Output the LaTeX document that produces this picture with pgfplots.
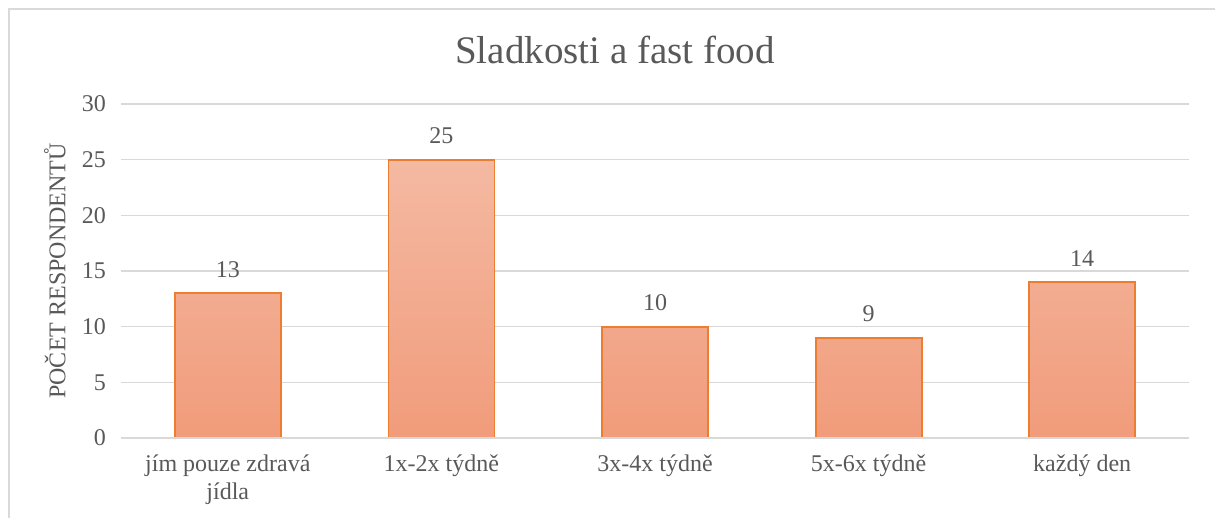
\documentclass[border=0pt]{standalone}
\usepackage{fontspec}
\setmainfont{Liberation Serif}
\usepackage{pgfplots}
\pgfplotsset{compat=1.18}
\definecolor{txtgray}{HTML}{595959}
\definecolor{gridgray}{HTML}{D9D9D9}
\definecolor{barEdge}{HTML}{ED7D31}
\definecolor{barTop}{HTML}{F4B9A2}
\definecolor{barBot}{HTML}{F19C7B}
\begin{document}
\begin{tikzpicture}
\useasboundingbox (0,0) rectangle (607.5pt,259pt);
% chart frame, cut at the right and bottom like the reference
\draw[gridgray, line width=0.9pt] (4.5pt,-20pt) -- (4.5pt,254.5pt) -- (630pt,254.5pt);
\begin{axis}[
  at={(60.5pt,40pt)}, anchor=south west,
  scale only axis,
  width=534pt, height=167pt,
  xmin=-0.5, xmax=4.5,
  ymin=0, ymax=30,
  ytick={0,5,...,30},
  xtick={0,1,2,3,4},
  xticklabels={{jím pouze zdravá\\jídla},{1x-2x týdně},{3x-4x týdně},{5x-6x týdně},{každý den}},
  x tick label style={align=center, font=\fontsize{12}{14}\selectfont, text=txtgray, yshift=-5pt},
  y tick label style={font=\fontsize{12}{14}\selectfont, text=txtgray, xshift=-4pt},
  /pgf/number format/assume math mode=true,
  major tick length=0pt,
  axis line style={draw=none},
  axis x line*=bottom,
  ymajorgrids,
  grid style={gridgray, line width=0.8pt},
  ylabel={POČET RESPONDENTŮ},
  ylabel style={font=\fontsize{12}{14}\selectfont, text=txtgray, at={(axis description cs:-0.062,0.5)}, anchor=center},
  title={Sladkosti a fast food},
  title style={font=\fontsize{19.5}{22}\selectfont, text=txtgray, at={(axis description cs:0.4625,1.126)}, anchor=center},
  nodes near coords,
  every node near coord/.append style={font=\fontsize{12}{14}\selectfont, text=txtgray, yshift=4pt},
  clip=false,
]
\addplot[ybar, bar width=53pt, draw=barEdge, line width=0.9pt, top color=barTop, bottom color=barBot]
  coordinates {(0,13) (1,25) (2,10) (3,9) (4,14)};
\draw[gridgray, line width=0.8pt] (axis cs:-0.5,0) -- (axis cs:4.5,0);
\end{axis}
\end{tikzpicture}
\end{document}
